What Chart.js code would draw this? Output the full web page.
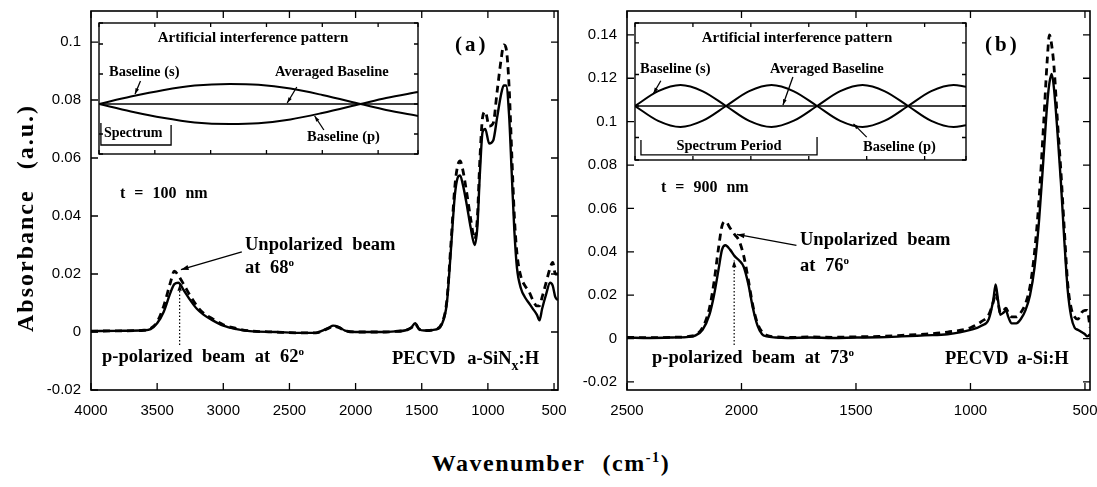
<!DOCTYPE html>
<html>
<head>
<meta charset="utf-8">
<script src="https://cdn.jsdelivr.net/npm/chart.js@4.4.0/dist/chart.umd.min.js"></script>
<style>
body { margin: 0; background: #fff; }
#page { position: relative; width: 1097px; height: 487px; overflow: hidden; background: #fff;
        font-family: "Liberation Serif", "Times New Roman", serif; font-weight: bold; color: #000; }
.box { position: absolute; }
.lbl { position: absolute; white-space: nowrap; line-height: 1; }
.ann { font-size: 18.5px; word-spacing: 5px; }
.ins { font-size: 14.5px; }
.deg { font-size: 0.6em; position: relative; top: -0.6em; }
.sub { font-size: 0.75em; position: relative; top: 0.45em; }
</style>
</head>
<body>
<div id="page">
  <div class="box" style="left:0;top:0;width:570px;height:430px"><canvas id="chA" width="570" height="430"></canvas></div>
  <div class="box" style="left:540px;top:0;width:557px;height:430px"><canvas id="chB" width="557" height="430"></canvas></div>
  <div class="box" style="left:98px;top:22px;width:321px;height:133px"><canvas id="inA" width="321" height="133"></canvas></div>
  <div class="box" style="left:634px;top:22px;width:333px;height:139px"><canvas id="inB" width="333" height="139"></canvas></div>

  <!-- panel (a) text -->
  <div class="lbl" style="left:455px;top:34px;font-size:21px;letter-spacing:3px">(a)</div>
  <div class="lbl" style="left:120px;top:185px;font-size:16px;word-spacing:5px">t = 100 nm</div>
  <div class="lbl ann" style="left:245px;top:235px">Unpolarized beam</div>
  <div class="lbl ann" style="left:245px;top:258px">at 68<span class="deg">o</span></div>
  <div class="lbl ann" style="left:102px;top:347px">p-polarized beam at 62<span class="deg">o</span></div>
  <div class="lbl ann" style="left:392px;top:349px;word-spacing:7px">PECVD a-SiN<span class="sub">x</span>:H</div>
  <div class="lbl" style="left:253px;top:30px;font-size:15px;transform:translateX(-50%)">Artificial interference pattern</div>
  <div class="lbl ins" style="left:109px;top:64px">Baseline (s)</div>
  <div class="lbl ins" style="left:275px;top:64px">Averaged Baseline</div>
  <div class="lbl ins" style="left:104px;top:126px;font-size:14px">Spectrum</div>
  <div class="lbl ins" style="left:307px;top:129px">Baseline (p)</div>

  <!-- panel (b) text -->
  <div class="lbl" style="left:985px;top:34px;font-size:21px;letter-spacing:3px">(b)</div>
  <div class="lbl" style="left:661px;top:179px;font-size:16px;word-spacing:5px">t = 900 nm</div>
  <div class="lbl ann" style="left:800px;top:230px">Unpolarized beam</div>
  <div class="lbl ann" style="left:800px;top:256px">at 76<span class="deg">o</span></div>
  <div class="lbl ann" style="left:652px;top:348px">p-polarized beam at 73<span class="deg">o</span></div>
  <div class="lbl ann" style="left:945px;top:349px;word-spacing:4px">PECVD a-Si:H</div>
  <div class="lbl" style="left:797px;top:30px;font-size:15px;transform:translateX(-50%)">Artificial interference pattern</div>
  <div class="lbl ins" style="left:640px;top:61px">Baseline (s)</div>
  <div class="lbl ins" style="left:770px;top:61px">Averaged Baseline</div>
  <div class="lbl ins" style="left:729px;top:138px;transform:translateX(-50%)">Spectrum Period</div>
  <div class="lbl ins" style="left:863px;top:139px">Baseline (p)</div>

  <!-- axis titles -->
  <div class="lbl" style="left:25px;top:218px;font-size:24px;letter-spacing:2px;word-spacing:12px;transform:translate(-50%,-50%) rotate(-90deg)">Absorbance (a.u.)</div>
  <div class="lbl" style="left:551px;top:463px;font-size:24px;letter-spacing:1.5px;word-spacing:10px;transform:translate(-50%,-50%)">Wavenumber (cm<span class="deg">-1</span>)</div>
</div>

<script>
// ---- panel (a): PECVD a-SiNx:H, t = 100 nm ----
const wnA = [4000, 3800, 3600, 3550, 3500, 3450, 3400, 3370, 3340, 3300,
             3250, 3200, 3150, 3080, 3000, 2900, 2800, 2600, 2400, 2300,
             2250, 2200, 2170, 2130, 2080, 2000, 1900, 1800, 1700, 1620,
             1580, 1550, 1520, 1480, 1400, 1350, 1310, 1280, 1250, 1230,
             1210, 1190, 1160, 1130, 1100, 1080, 1060, 1040, 1020, 990,
             960, 930, 900, 880, 863, 840, 820, 800, 780, 750,
             720, 690, 660, 630, 610, 590, 560, 530, 510, 490,
             470];
// p-polarized beam at 62 deg (solid)
const pA = [0.0003, 0.0004, 0.0006, 0.001, 0.003, 0.007, 0.0135, 0.0165, 0.017, 0.0145,
            0.011, 0.008, 0.006, 0.004, 0.0022, 0.001, 0.0003, 0, -0.0003, -0.0003,
            0.0005, 0.0015, 0.0022, 0.0018, 0.0005, 0, 0, 0, 0.0002, 0.0006,
            0.0015, 0.003, 0.001, 0.0005, 0.0008, 0.0025, 0.01, 0.028, 0.047, 0.053,
            0.054, 0.051, 0.044, 0.036, 0.03, 0.036, 0.055, 0.069, 0.07, 0.065,
            0.066, 0.074, 0.082, 0.085, 0.085, 0.075, 0.055, 0.035, 0.022, 0.015,
            0.012, 0.01, 0.008, 0.006, 0.004, 0.008, 0.013, 0.017, 0.016, 0.012,
            0.011];
// unpolarized beam at 68 deg (dashed)
const uA = [0.0003, 0.0004, 0.0006, 0.0012, 0.0035, 0.009, 0.017, 0.021, 0.0195, 0.0165,
            0.0125, 0.009, 0.0065, 0.0045, 0.0025, 0.0012, 0.0004, 0, -0.0003, -0.0003,
            0.0004, 0.0014, 0.002, 0.0016, 0.0005, 0, 0, 0, 0.0002, 0.0006,
            0.0014, 0.0028, 0.001, 0.0005, 0.0009, 0.0028, 0.011, 0.03, 0.05, 0.057,
            0.059, 0.056, 0.048, 0.039, 0.032, 0.039, 0.06, 0.074, 0.076, 0.071,
            0.072, 0.083, 0.094, 0.099, 0.098, 0.085, 0.062, 0.04, 0.027, 0.019,
            0.016, 0.014, 0.011, 0.009, 0.009, 0.012, 0.017, 0.022, 0.024, 0.02,
            0.02];
const ticksXA = [4000, 3500, 3000, 2500, 2000, 1500, 1000, 500];
const ticksYA = [-0.02, 0, 0.02, 0.04, 0.06, 0.08, 0.1];

// ---- panel (b): PECVD a-Si:H, t = 900 nm ----
const wnB = [2500, 2400, 2300, 2230, 2200, 2170, 2140, 2120, 2100, 2085,
             2070, 2050, 2030, 2010, 1990, 1970, 1950, 1930, 1910, 1890,
             1850, 1800, 1700, 1600, 1500, 1400, 1300, 1200, 1100, 1000,
             950, 920, 900, 890, 880, 870, 855, 845, 835, 820,
             800, 780, 760, 740, 720, 700, 680, 665, 655, 645,
             635, 620, 605, 590, 575, 560, 545, 530, 515, 500,
             490, 478];
// p-polarized beam at 73 deg (solid)
const pB = [0.0005, 0.0003, 0.0005, 0.0008, 0.0015, 0.004, 0.011, 0.02, 0.032, 0.041,
            0.043, 0.041, 0.038, 0.036, 0.033, 0.025, 0.014, 0.006, 0.002, 0.001,
            0.0005, 0.0003, 0.0005, 0.0003, 0.0005, 0.0006, 0.001, 0.0015, 0.002, 0.004,
            0.006, 0.009, 0.018, 0.025, 0.018, 0.011, 0.012, 0.013, 0.01, 0.007,
            0.007, 0.009, 0.013, 0.02, 0.033, 0.055, 0.085, 0.108, 0.118, 0.122,
            0.115, 0.095, 0.072, 0.045, 0.022, 0.01, 0.005, 0.004, 0.003, 0.002,
            0.001, 0.002];
// unpolarized beam at 76 deg (dashed)
const uB = [0.0006, 0.0004, 0.0006, 0.001, 0.0018, 0.005, 0.014, 0.026, 0.042, 0.052,
            0.054, 0.051, 0.048, 0.045, 0.038, 0.027, 0.015, 0.007, 0.003, 0.0015,
            0.0008, 0.0005, 0.0008, 0.0006, 0.0008, 0.001, 0.0015, 0.002, 0.003, 0.005,
            0.008, 0.011, 0.017, 0.021, 0.017, 0.012, 0.013, 0.014, 0.012, 0.01,
            0.01, 0.012, 0.016, 0.024, 0.04, 0.065, 0.1, 0.128, 0.14, 0.135,
            0.125, 0.1, 0.077, 0.05, 0.025, 0.014, 0.01, 0.009, 0.012, 0.013,
            0.013, 0.005];
const ticksXB = [2500, 2000, 1500, 1000, 500];
const ticksYB = [-0.02, 0, 0.02, 0.04, 0.06, 0.08, 0.1, 0.12, 0.14];

// ---- insets: artificial interference pattern (arbitrary units) ----
const insXA  = [0, 10, 20, 30, 41, 50, 60, 70, 82, 90, 100];
const baseSA = [0, 0.37, 0.69, 0.92, 1.0, 0.96, 0.77, 0.45, 0, -0.3, -0.6];
const basePA = [0, -0.37, -0.69, -0.92, -1.0, -0.96, -0.77, -0.45, 0, 0.3, 0.6];
const avgA   = [0, 0, 0, 0, 0, 0, 0, 0, 0, 0, 0];

const insXB  = [0, 7, 13.75, 20.5, 27.5, 34.5, 41.25, 48, 55, 62, 68.75, 75.5, 82.5, 89.5, 96.25, 100];
const baseSB = [0, 0.71, 1, 0.7, 0, -0.71, -1, -0.7, 0, 0.71, 1, 0.7, 0, -0.71, -1, -0.92];
const basePB = [0, -0.71, -1, -0.7, 0, 0.71, 1, 0.7, 0, -0.71, -1, -0.7, 0, 0.71, 1, 0.92];
const avgB   = [0, 0, 0, 0, 0, 0, 0, 0, 0, 0, 0, 0, 0, 0, 0, 0];

const pts = (xs, ys) => xs.map((x, i) => ({ x: x, y: ys[i] }));

Chart.defaults.font.family = '"Liberation Sans", Arial, sans-serif';
Chart.defaults.font.size = 15;
Chart.defaults.color = '#000';

// frame, inward ticks, arrows and brackets
const decor = {
  id: 'decor',
  afterDatasetsDraw(chart, args, o) {
    const { ctx, chartArea: a } = chart;
    const sx = chart.scales.x, sy = chart.scales.y;
    const px = v => sx.getPixelForValue(v), py = v => sy.getPixelForValue(v);
    ctx.save();
    ctx.strokeStyle = '#000';
    ctx.fillStyle = '#000';
    ctx.lineWidth = o.frame || 1.5;
    ctx.strokeRect(a.left, a.top, a.width, a.height);
    const L = o.tick || 7;
    ctx.lineWidth = 1.3;
    ctx.beginPath();
    sx.ticks.forEach(t => {
      const x = px(t.value);
      ctx.moveTo(x, a.bottom); ctx.lineTo(x, a.bottom - L);
      ctx.moveTo(x, a.top); ctx.lineTo(x, a.top + L);
    });
    sy.ticks.forEach(t => {
      const y = py(t.value);
      ctx.moveTo(a.left, y); ctx.lineTo(a.left + L, y);
      ctx.moveTo(a.right, y); ctx.lineTo(a.right - L, y);
    });
    ctx.stroke();
    (o.arrows || []).forEach(ar => {
      const x1 = px(ar.from[0]), y1 = py(ar.from[1]);
      const x2 = px(ar.to[0]), y2 = py(ar.to[1]);
      ctx.lineWidth = ar.w || 1.3;
      ctx.setLineDash(ar.dotted ? [1.5, 2] : []);
      ctx.beginPath(); ctx.moveTo(x1, y1); ctx.lineTo(x2, y2); ctx.stroke();
      ctx.setLineDash([]);
      const ang = Math.atan2(y2 - y1, x2 - x1), h = ar.head || 8;
      ctx.beginPath();
      ctx.moveTo(x2, y2);
      ctx.lineTo(x2 - h * Math.cos(ang - 0.32), y2 - h * Math.sin(ang - 0.32));
      ctx.lineTo(x2 - h * Math.cos(ang + 0.32), y2 - h * Math.sin(ang + 0.32));
      ctx.closePath(); ctx.fill();
    });
    (o.paths || []).forEach(p => {
      ctx.lineWidth = 1.3;
      ctx.beginPath();
      p.forEach((q, i) => i ? ctx.lineTo(px(q[0]), py(q[1])) : ctx.moveTo(px(q[0]), py(q[1])));
      ctx.stroke();
    });
    ctx.restore();
  }
};
Chart.register(decor);

const fmt = v => String(+Number(v).toFixed(3));
const setTicks = list => s => { s.ticks = list.map(v => ({ value: v })); };

function mainChart(id, xs, solid, dashed, xr, yr, xTicks, yTicks, yWidth, padRight, arrows) {
  return new Chart(document.getElementById(id), {
    type: 'scatter',
    data: {
      datasets: [
        { data: pts(xs, solid), showLine: true, borderColor: '#000', borderWidth: 2.4,
          pointRadius: 0, cubicInterpolationMode: 'monotone' },
        { data: pts(xs, dashed), showLine: true, borderColor: '#000', borderWidth: 2.8,
          borderDash: [7, 5], pointRadius: 0, cubicInterpolationMode: 'monotone' }
      ]
    },
    options: {
      responsive: false, animation: false, devicePixelRatio: 1,
      layout: { padding: { left: 0, top: 11, right: padRight, bottom: 0 } },
      plugins: { legend: { display: false }, tooltip: { enabled: false },
                 decor: { frame: 1.6, tick: 7, arrows: arrows } },
      scales: {
        x: { type: 'linear', reverse: true, min: xr[0], max: xr[1],
             afterBuildTicks: setTicks(xTicks),
             ticks: { padding: 12, maxRotation: 0, autoSkip: false, callback: v => String(v) },
             grid: { display: false, drawTicks: false }, border: { display: false },
             afterFit: s => { s.height = 40; s.paddingLeft = 0; s.paddingRight = 0; } },
        y: { min: yr[0], max: yr[1],
             afterBuildTicks: setTicks(yTicks),
             ticks: { padding: 10, autoSkip: false, callback: fmt },
             grid: { display: false, drawTicks: false }, border: { display: false },
             afterFit: s => { s.width = yWidth; s.paddingTop = 0; s.paddingBottom = 0; } }
      }
    }
  });
}

function insetChart(id, xs, s, p, avg, yr, arrows, paths) {
  return new Chart(document.getElementById(id), {
    type: 'scatter',
    data: {
      datasets: [
        { data: pts(xs, s), showLine: true, borderColor: '#000', borderWidth: 2,
          pointRadius: 0, cubicInterpolationMode: 'monotone' },
        { data: pts(xs, p), showLine: true, borderColor: '#000', borderWidth: 2,
          pointRadius: 0, cubicInterpolationMode: 'monotone' },
        { data: pts(xs, avg), showLine: true, borderColor: '#000', borderWidth: 1.3, pointRadius: 0 }
      ]
    },
    options: {
      responsive: false, animation: false, devicePixelRatio: 1,
      layout: { padding: 1 },
      plugins: { legend: { display: false }, tooltip: { enabled: false },
                 decor: { frame: 1.4, tick: 4, arrows: arrows, paths: paths } },
      scales: {
        x: { type: 'linear', min: 0, max: 100, ticks: { display: false, stepSize: 17.5 },
             grid: { display: false, drawTicks: false }, border: { display: false },
             afterFit: sc => { sc.height = 0; sc.paddingLeft = 0; sc.paddingRight = 0; } },
        y: { min: yr[0], max: yr[1], ticks: { display: false, stepSize: 1.5 },
             grid: { display: false, drawTicks: false }, border: { display: false },
             afterFit: sc => { sc.width = 0; sc.paddingTop = 0; sc.paddingBottom = 0; } }
      }
    }
  });
}

mainChart('chA', wnA, pA, uA, [470, 4000], [-0.02, 0.1107], ticksXA, ticksYA, 91, 12, [
  { from: [2860, 0.0276], to: [3320, 0.0215] },
  { from: [3330, -0.0045], to: [3330, 0.0165], dotted: true, w: 1.2, head: 7 }
]);
mainChart('chB', wnB, pB, uB, [478, 2500], [-0.0237, 0.151], ticksXB, ticksYB, 87, 7, [
  { from: [1760, 0.043], to: [2020, 0.048] },
  { from: [2032, -0.003], to: [2032, 0.036], dotted: true, w: 1.2, head: 7 }
]);

insetChart('inA', insXA, baseSA, basePA, avgA, [-2.5, 4.05], [
  { from: [13, 1.15], to: [11.3, 0.5], head: 6 },
  { from: [62, 0.85], to: [59, 0.05], head: 6 },
  { from: [70.5, -1.3], to: [67.6, -0.6], head: 6 }
], [
  [[0.6, -0.95], [0.6, -2.05], [22.6, -2.05], [22.6, -1.05]]
]);
insetChart('inB', insXB, baseSB, basePB, avgB, [-2.57, 3.95], [
  { from: [7.8, 1.2], to: [5.6, 0.6], head: 6 },
  { from: [47.7, 1.38], to: [44.7, 0.05], head: 6 },
  { from: [70, -1.48], to: [66, -0.85], head: 6 }
], [
  [[1.8, -1.62], [1.8, -2.33], [55, -2.33], [55, -1.48]]
]);
</script>
</body>
</html>
